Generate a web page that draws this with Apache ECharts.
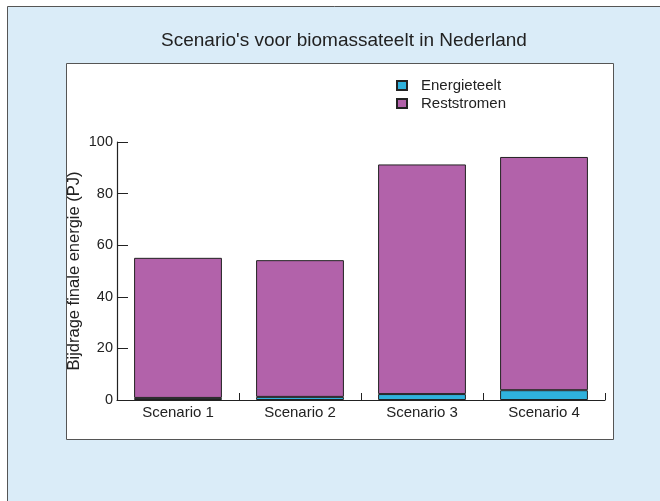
<!DOCTYPE html>
<html>
<head>
<meta charset="utf-8">
<script src="https://cdn.jsdelivr.net/npm/echarts@6/dist/echarts.min.js"></script>
<style>
  html, body { margin: 0; padding: 0; background: #fff; }
  #main { width: 660px; height: 501px; }
</style>
</head>
<body>
<div id="main"></div>
<script>
var categories = ['Scenario 1', 'Scenario 2', 'Scenario 3', 'Scenario 4'];
var energieteelt = [0.8, 1.2, 2.3, 3.8];
var reststromen = [54.3, 53.0, 89.0, 90.4];
var yTicks = [0, 20, 40, 60, 80, 100];

var font = 'Liberation Sans, Arial, sans-serif';
var myChart = echarts.init(document.getElementById('main'));
var option = {
    animation: false,
    backgroundColor: '#fff',
    textStyle: {fontFamily: font},
    graphic: [
        {
            type: 'rect', z: -10, silent: true,
            shape: {x: 7.5, y: 6.5, width: 660, height: 500},
            style: {fill: '#daecf8', stroke: '#555', lineWidth: 1}
        },
        {
            type: 'rect', z: -9, silent: true,
            shape: {x: 66.5, y: 63.5, width: 547, height: 376},
            style: {fill: '#fff', stroke: '#555', lineWidth: 1}
        }
    ],
    title: {
        text: "Scenario's voor biomassateelt in Nederland",
        left: 339,
        textAlign: 'center',
        top: 26,
        textStyle: {fontSize: 19, fontWeight: 'normal', color: '#222', fontFamily: font}
    },
    legend: {
        orient: 'vertical',
        left: 391,
        top: 73,
        itemWidth: 10,
        itemHeight: 9,
        itemGap: 3,
        icon: 'rect',
        textStyle: {fontSize: 15, color: '#222', fontFamily: font, padding: [0, 0, 0, 9]},
        data: ['Energieteelt', 'Reststromen']
    },
    grid: {left: 117, right: 55, top: 142, bottom: 101},
    xAxis: {
        type: 'category',
        data: categories,
        axisLine: {lineStyle: {color: '#222', width: 1.2}},
        axisTick: {show: true, inside: true, length: 7, alignWithLabel: false, lineStyle: {color: '#222'}},
        axisLabel: {fontSize: 15, color: '#222', margin: 5, fontFamily: font}
    },
    yAxis: {
        type: 'value',
        min: yTicks[0],
        max: yTicks[yTicks.length - 1],
        interval: 20,
        name: 'Bijdrage finale energie (PJ)',
        nameLocation: 'middle',
        nameGap: 34,
        nameMoveOverlap: false,
        nameTextStyle: {fontSize: 16.5, color: '#222', fontFamily: font},
        axisLine: {show: true, lineStyle: {color: '#222', width: 1.2}},
        axisTick: {show: true, inside: true, length: 11, lineStyle: {color: '#222'}},
        axisLabel: {fontSize: 14.5, color: '#222', margin: 4, fontFamily: font},
        splitLine: {show: false}
    },
    series: [
        {
            name: 'Energieteelt',
            type: 'bar',
            stack: 'total',
            barWidth: '72%',
            itemStyle: {color: '#2fb2dd', borderColor: '#222', borderWidth: 1},
            data: energieteelt
        },
        {
            name: 'Reststromen',
            type: 'bar',
            stack: 'total',
            barWidth: '72%',
            itemStyle: {color: '#b262aa', borderColor: '#222', borderWidth: 1},
            data: reststromen
        }
    ]
};
myChart.setOption(option);
</script>
</body>
</html>
